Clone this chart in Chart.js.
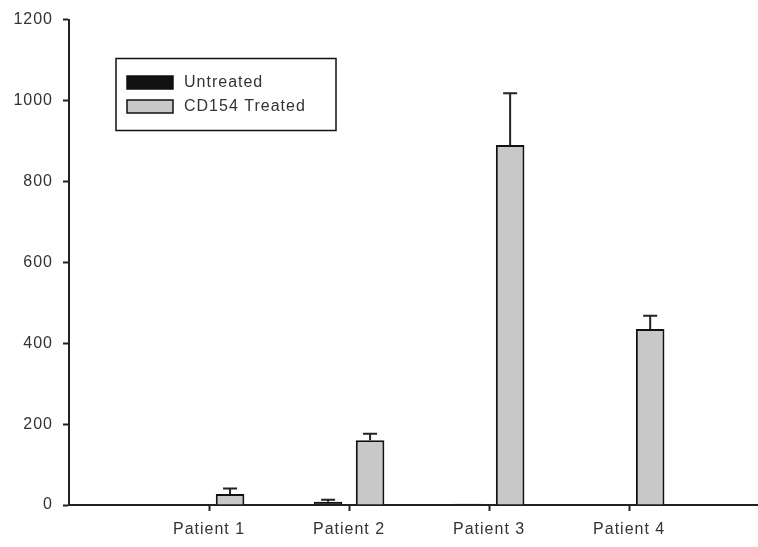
<!DOCTYPE html>
<html>
<head>
<meta charset="utf-8">
<script src="https://cdn.jsdelivr.net/npm/chart.js@4/dist/chart.umd.min.js"></script>
<style>
  html, body { margin: 0; padding: 0; background: #fff; overflow: hidden; }
  #wrap { width: 758px; height: 547px; }
</style>
</head>
<body>
<div id="wrap"><canvas id="barChart" width="758" height="547"></canvas></div>
<script>
"use strict";

const categories = ["Patient 1", "Patient 2", "Patient 3", "Patient 4"];
const untreated = [0, 8, 3, 0];
const untreatedErr = [0, 5, 0, 0];
const treated = [27, 160, 890, 435];
const treatedErr = [14, 16, 128, 33];
const yTicks = [0, 200, 400, 600, 800, 1000, 1200];

const FONT = "'Liberation Sans', Arial, sans-serif";

const toPoints = (vals) => vals.map((v, i) => ({ x: i + 1, y: v }));

// wider letter spacing, like the reference's stretched text
const spacing = {
	id: "spacing",
	beforeInit(chart) {
		chart.ctx.letterSpacing = "1px";
	},
	beforeDraw(chart) {
		chart.ctx.letterSpacing = "1px";
	},
};

// upward-only error bars with a cap
const errorBars = {
	id: "errorBars",
	afterDatasetsDraw(chart) {
		const ctx = chart.ctx;
		const yScale = chart.scales.y;
		chart.data.datasets.forEach((ds, di) => {
			const meta = chart.getDatasetMeta(di);
			meta.data.forEach((bar, j) => {
				const err = ds.errors[j];
				if (!err) return;
				const top = yScale.getPixelForValue(ds.data[j].y + err);
				ctx.save();
				ctx.strokeStyle = "#222";
				ctx.lineWidth = 2;
				ctx.beginPath();
				ctx.moveTo(bar.x, bar.y);
				ctx.lineTo(bar.x, top);
				ctx.moveTo(bar.x - 7, top);
				ctx.lineTo(bar.x + 7, top);
				ctx.stroke();
				ctx.restore();
			});
		});
	},
};

// legend box drawn inside the plot area
const boxLegend = {
	id: "boxLegend",
	afterDraw(chart) {
		const ctx = chart.ctx;
		ctx.save();
		ctx.strokeStyle = "#111";
		ctx.lineWidth = 1.5;
		ctx.strokeRect(116, 58.5, 220, 72);
		ctx.font = "16px " + FONT;
		ctx.textBaseline = "middle";
		chart.data.datasets.forEach((ds, i) => {
			const y = 76 + i * 24;
			ctx.fillStyle = ds.backgroundColor;
			ctx.fillRect(127, y, 46, 13);
			ctx.strokeStyle = "#111";
			ctx.lineWidth = 1.5;
			ctx.strokeRect(127, y, 46, 13);
			ctx.fillStyle = "#333";
			ctx.fillText(ds.label, 184, y + 7);
		});
		ctx.restore();
	},
};

new Chart(document.getElementById("barChart"), {
	type: "bar",
	data: {
		datasets: [
			{
				label: "Untreated",
				data: toPoints(untreated),
				errors: untreatedErr,
				backgroundColor: "#111111",
				borderColor: "#111111",
				borderWidth: 1.5,
			},
			{
				label: "CD154 Treated",
				data: toPoints(treated),
				errors: treatedErr,
				backgroundColor: "#c8c8c8",
				borderColor: "#111111",
				borderWidth: 2,
			},
		],
	},
	options: {
		responsive: false,
		animation: false,
		categoryPercentage: 0.6,
		barPercentage: 0.68,
		layout: { padding: { top: 18, right: 0, left: 0, bottom: 0 } },
		plugins: {
			legend: { display: false },
			tooltip: { enabled: false },
		},
		scales: {
			x: {
				type: "linear",
				offset: false,
				min: 0,
				max: 4.92,
				afterBuildTicks: (s) => {
					s.ticks = categories.map((c, i) => ({ value: i + 1 }));
				},
				afterFit: (s) => {
					s.height = 42;
				},
				ticks: {
					callback: (value) => categories[value - 1] || "",
					color: "#333",
					font: { family: FONT, size: 16 },
					padding: 9,
					maxRotation: 0,
				},
				grid: {
					offset: false,
					drawOnChartArea: false,
					tickLength: 6,
					tickWidth: 2,
					tickColor: "#222",
				},
				border: { color: "#222", width: 2 },
			},
			y: {
				min: 0,
				max: 1200,
				afterBuildTicks: (s) => {
					s.ticks = yTicks.map((v) => ({ value: v }));
				},
				afterFit: (s) => {
					s.width = 69;
				},
				ticks: {
					callback: (value) => String(value),
					color: "#333",
					font: { family: FONT, size: 16 },
					padding: 10,
				},
				grid: {
					drawOnChartArea: false,
					tickLength: 6,
					tickWidth: 2,
					tickColor: "#222",
				},
				border: { color: "#222", width: 2 },
			},
		},
	},
	plugins: [spacing, errorBars, boxLegend],
});
</script>
</body>
</html>
